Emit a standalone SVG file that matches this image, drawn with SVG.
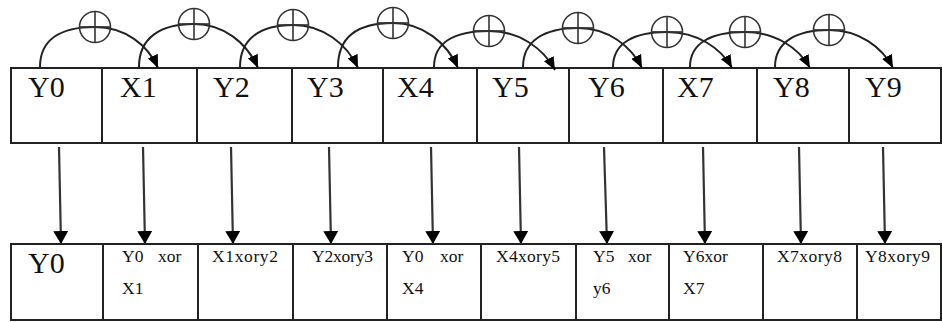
<svg xmlns="http://www.w3.org/2000/svg" width="942" height="322" viewBox="0 0 942 322">
<style>
.box{fill:#fff;stroke:#222;stroke-width:2}
.big{font-family:"Liberation Serif","Times New Roman",serif;font-size:30px;fill:#111}
.sm{font-family:"Liberation Serif","Times New Roman",serif;font-size:17.5px;fill:#111}
.arc{fill:none;stroke:#222;stroke-width:2}
.vline{fill:none;stroke:#333;stroke-width:2.2}
.xor{fill:none;stroke:#333;stroke-width:1.6}
</style>
<defs>
<marker id="ah" viewBox="0 0 13 15" refX="13" refY="7.5" markerWidth="13" markerHeight="15" markerUnits="userSpaceOnUse" orient="auto">
<path d="M0,0 L13,7.5 L0,15 z" fill="#000"/>
</marker>
<marker id="ha" viewBox="0 0 13 11" refX="13" refY="5.5" markerWidth="13" markerHeight="11" markerUnits="userSpaceOnUse" orient="auto">
<path d="M0,0 L13,5.5 L0,11 z" fill="#000"/>
</marker>
<g id="xsym"><circle cx="0" cy="0" r="15.5"/><line x1="-15.5" y1="0" x2="15.5" y2="0"/><line x1="0" y1="-15.5" x2="0" y2="15.5"/></g>
</defs>

<g id="top-row">
<rect class="box" x="11" y="68" width="930" height="75"/>
<g class="box"><line x1="102" y1="68" x2="102" y2="143"/><line x1="197" y1="68" x2="197" y2="143"/><line x1="292" y1="68" x2="292" y2="143"/><line x1="383" y1="68" x2="383" y2="143"/><line x1="477" y1="68" x2="477" y2="143"/><line x1="569" y1="68" x2="569" y2="143"/><line x1="663" y1="68" x2="663" y2="143"/><line x1="757" y1="68" x2="757" y2="143"/><line x1="849" y1="68" x2="849" y2="143"/></g>
</g>
<g id="n-Y0"><text class="big" x="28" y="97">Y0</text></g>
<g id="n-X1"><text class="big" x="120" y="97">X1</text></g>
<g id="n-Y2"><text class="big" x="213" y="97">Y2</text></g>
<g id="n-Y3"><text class="big" x="307" y="97">Y3</text></g>
<g id="n-X4"><text class="big" x="397" y="97">X4</text></g>
<g id="n-Y5"><text class="big" x="492" y="97">Y5</text></g>
<g id="n-Y6"><text class="big" x="588" y="97">Y6</text></g>
<g id="n-X7"><text class="big" x="677" y="97">X7</text></g>
<g id="n-Y8"><text class="big" x="773" y="97">Y8</text></g>
<g id="n-Y9"><text class="big" x="865" y="97">Y9</text></g>

<g id="bottom-row">
<rect class="box" x="11" y="244" width="930" height="76"/>
<g class="box"><line x1="103" y1="244" x2="103" y2="320"/><line x1="198" y1="244" x2="198" y2="320"/><line x1="293" y1="244" x2="293" y2="320"/><line x1="387" y1="244" x2="387" y2="320"/><line x1="481" y1="244" x2="481" y2="320"/><line x1="576" y1="244" x2="576" y2="320"/><line x1="669" y1="244" x2="669" y2="320"/><line x1="763" y1="244" x2="763" y2="320"/><line x1="857" y1="244" x2="857" y2="320"/></g>
</g>
<g id="r0"><text class="big" x="28" y="273">Y0</text></g>
<g id="r1"><text class="sm" x="122" y="262">Y0</text><text class="sm" x="158" y="262">xor</text><text class="sm" x="122" y="294">X1</text></g>
<g id="r2"><text class="sm" x="212" y="262" textLength="66">X1xory2</text></g>
<g id="r3"><text class="sm" x="312" y="262" textLength="61">Y2xory3</text></g>
<g id="r4"><text class="sm" x="402" y="262">Y0</text><text class="sm" x="440" y="262">xor</text><text class="sm" x="402" y="294">X4</text></g>
<g id="r5"><text class="sm" x="496" y="262" textLength="64">X4xory5</text></g>
<g id="r6"><text class="sm" x="593" y="262">Y5</text><text class="sm" x="628" y="262">xor</text><text class="sm" x="593" y="294">y6</text></g>
<g id="r7"><text class="sm" x="683" y="262">Y6xor</text><text class="sm" x="683" y="294">X7</text></g>
<g id="r8"><text class="sm" x="777" y="262" textLength="65">X7xory8</text></g>
<g id="r9"><text class="sm" x="865" y="262" textLength="65">Y8xory9</text></g>

<g id="connectors">
<g class="arc">
<path d="M40 67 C40 40 60 27 95 27 C125 27 148 45 158 68" marker-end="url(#ha)"/>
<path d="M139 67 C139 38 160 24 194 24 C224 24 247 43 258 68" marker-end="url(#ha)"/>
<path d="M240 67 C240 39 260 25 293 25 C323 25 347 44 358 68" marker-end="url(#ha)"/>
<path d="M338 67 C338 37 358 23 393 23 C423 23 447 43 458 68" marker-end="url(#ha)"/>
<path d="M434 67 C434 42 455 31 489 31 C519 31 543 48 555 70" marker-end="url(#ha)"/>
<path d="M523 67 C523 41 544 28 578 28 C608 28 631 46 642 68" marker-end="url(#ha)"/>
<path d="M613 67 C613 43 634 32 667 32 C697 32 721 48 732 68" marker-end="url(#ha)"/>
<path d="M690 67 C690 43 711 32 745 32 C775 32 799 48 810 68" marker-end="url(#ha)"/>
<path d="M775 67 C775 42 796 30 829 30 C859 30 882 47 893 68" marker-end="url(#ha)"/>
</g>
<g class="xor">
<use href="#xsym" x="95" y="27"/>
<use href="#xsym" x="194" y="24"/>
<use href="#xsym" x="293" y="25"/>
<use href="#xsym" x="393" y="23"/>
<use href="#xsym" x="489" y="31"/>
<use href="#xsym" x="578" y="28"/>
<use href="#xsym" x="667" y="32"/>
<use href="#xsym" x="745" y="32"/>
<use href="#xsym" x="829" y="30"/>
</g>
<g class="vline">
<line x1="59" y1="147" x2="61" y2="244" marker-end="url(#ah)"/>
<line x1="143" y1="147" x2="145" y2="244" marker-end="url(#ah)"/>
<line x1="231" y1="147" x2="233" y2="244" marker-end="url(#ah)"/>
<line x1="329" y1="147" x2="331" y2="244" marker-end="url(#ah)"/>
<line x1="431" y1="147" x2="433" y2="244" marker-end="url(#ah)"/>
<line x1="519" y1="147" x2="521" y2="244" marker-end="url(#ah)"/>
<line x1="604" y1="147" x2="607" y2="244" marker-end="url(#ah)"/>
<line x1="703" y1="147" x2="705" y2="244" marker-end="url(#ah)"/>
<line x1="799" y1="147" x2="801" y2="244" marker-end="url(#ah)"/>
<line x1="883" y1="147" x2="885" y2="244" marker-end="url(#ah)"/>
</g>
</g>
</svg>
